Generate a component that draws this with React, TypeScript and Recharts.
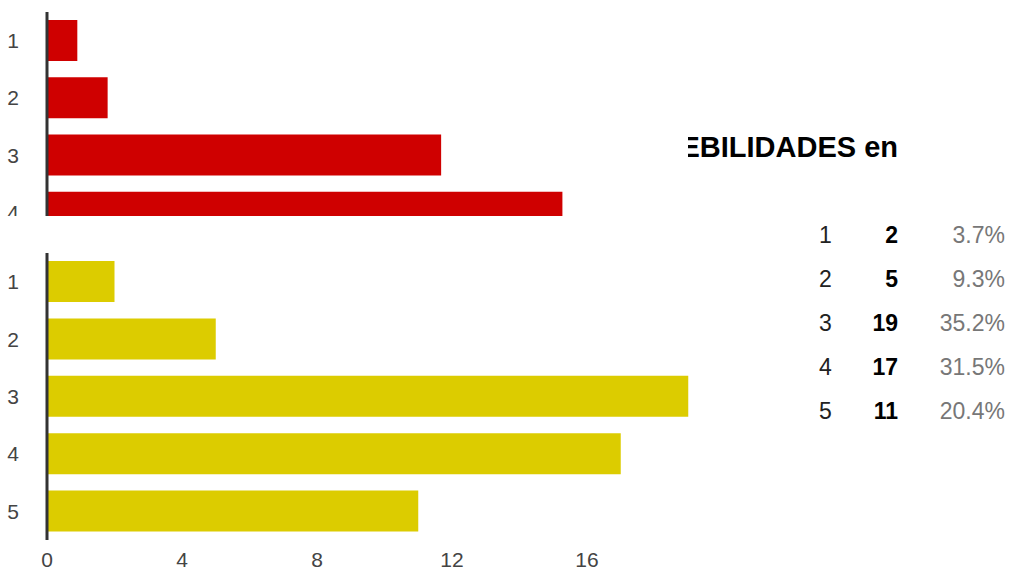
import React from "react";
import { BarChart, Bar, XAxis, YAxis } from "recharts";

const topCategories = ["1", "2", "3", "4"];
const topValues = [1, 2, 13, 17];

const categories = ["1", "2", "3", "4", "5"];
const counts = [2, 5, 19, 17, 11];

const xTicks = [0, 4, 8, 12, 16];
const titleText = "DEBILIDADES en";

const total = counts.reduce((a, b) => a + b, 0);
const topData = topCategories.map((c, i) => ({ name: c, value: topValues[i] }));
const bottomData = categories.map((c, i) => ({ name: c, value: counts[i] }));

const FONT = "'Liberation Sans', Arial, sans-serif";
const tickStyle = { fill: "#444", fontSize: 21, fontFamily: FONT };
const axisLineStyle = { stroke: "#333", strokeWidth: 3 };

export default function App() {
  return (
    <div
      style={{
        position: "absolute",
        left: 0,
        top: 0,
        width: 1011,
        height: 572,
        overflow: "hidden",
        background: "#fff",
        fontFamily: FONT,
      }}
    >
      {/* top chart, cut off at the bottom like the screenshot */}
      <div style={{ position: "absolute", left: 0, top: 0, width: 720, height: 216, overflow: "hidden" }}>
        <BarChart
          width={714}
          height={241}
          data={topData}
          layout="vertical"
          margin={{ top: 12, right: 0, bottom: 0, left: 0 }}
          barSize={41}
        >
          <XAxis type="number" domain={[0, 22]} hide />
          <YAxis
            type="category"
            dataKey="name"
            width={47}
            tickLine={false}
            tickSize={0}
            tickMargin={28}
            axisLine={axisLineStyle}
            stroke="#333"
            strokeWidth={3}
            tick={tickStyle}
          />
          <Bar dataKey="value" fill="#cf0000" isAnimationActive={false} />
        </BarChart>
      </div>

      {/* bottom chart */}
      <div style={{ position: "absolute", left: 0, top: 245, width: 730, height: 327 }}>
        <BarChart
          width={722}
          height={327}
          data={bottomData}
          layout="vertical"
          margin={{ top: 8, right: 0, bottom: 0, left: 0 }}
          barSize={41}
        >
          <XAxis
            type="number"
            domain={[0, 20]}
            ticks={xTicks}
            tickLine={false}
            axisLine={false}
            tickSize={0}
            tickMargin={12}
            height={32}
            tick={tickStyle}
            interval={0}
          />
          <YAxis
            type="category"
            dataKey="name"
            width={47}
            tickLine={false}
            tickSize={0}
            tickMargin={28}
            axisLine={axisLineStyle}
            stroke="#333"
            strokeWidth={3}
            tick={tickStyle}
          />
          <Bar dataKey="value" fill="#dccc00" isAnimationActive={false} />
        </BarChart>
      </div>

      {/* clipped title */}
      <div style={{ position: "absolute", left: 688, top: 127, width: 212, height: 40, overflow: "hidden" }}>
        <span
          style={{
            position: "absolute",
            right: 2,
            top: 0,
            whiteSpace: "nowrap",
            fontWeight: "bold",
            fontSize: 29,
            lineHeight: "40px",
            color: "#000",
          }}
        >
          {titleText}
        </span>
      </div>

      {/* summary table */}
      {categories.map((c, i) => (
        <div
          key={c}
          style={{ position: "absolute", left: 800, top: 220 + i * 44, width: 208, height: 30, fontSize: 23, lineHeight: "30px" }}
        >
          <span style={{ position: "absolute", left: 19, color: "#222" }}>{c}</span>
          <span style={{ position: "absolute", right: 110, fontWeight: "bold", color: "#000" }}>{counts[i]}</span>
          <span style={{ position: "absolute", right: 3, color: "#777" }}>{((counts[i] / total) * 100).toFixed(1)}%</span>
        </div>
      ))}
    </div>
  );
}
